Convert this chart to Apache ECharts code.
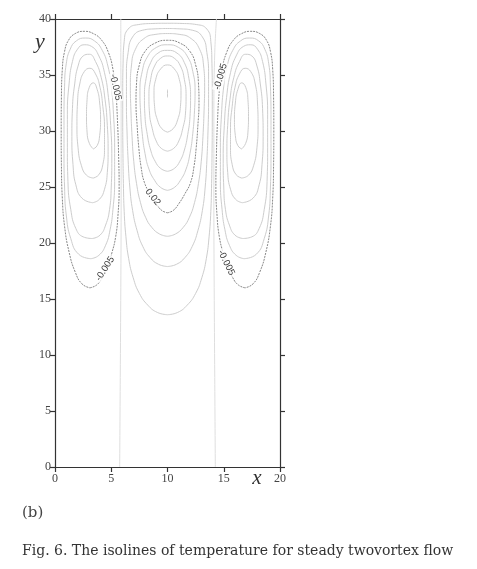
<!DOCTYPE html>
<html><head><meta charset="utf-8">
<script src="https://cdn.jsdelivr.net/npm/echarts@6/dist/echarts.min.js"></script>
<style>html,body{margin:0;padding:0;background:#fff}#c{width:477px;height:569px}</style>
</head><body><div id="c"></div>
<script>
// Axis ticks
var xTicks = [0, 5, 10, 15, 20];
var yTicks = [0, 5, 10, 15, 20, 25, 30, 35, 40];

// Labeled isolines (-0.005 of side vortices, 0.02 of central vortex)
var leftOuter = [[3.1,16.0],[3.7,16.25],[4.2,16.9],[4.65,17.9],[5.05,19.1],[5.4,20.6],[5.6,22.5],[5.7,25],[5.65,28],[5.55,31],[5.4,33.5],[5.15,35.5],[4.75,37.0],[4.15,38.1],[3.4,38.7],[2.6,38.9],[1.8,38.7],[1.2,38.1],[0.85,37.1],[0.65,35.5],[0.57,33],[0.55,30],[0.57,27],[0.65,24],[0.85,21.5],[1.25,19.2],[1.8,17.4],[2.4,16.35],[3.1,16.0]];
var rightOuter = [[16.9,16.0],[16.3,16.25],[15.8,16.9],[15.35,17.9],[14.95,19.1],[14.6,20.6],[14.4,22.5],[14.3,25],[14.35,28],[14.45,31],[14.6,33.5],[14.85,35.5],[15.25,37.0],[15.85,38.1],[16.6,38.7],[17.4,38.9],[18.2,38.7],[18.8,38.1],[19.15,37.1],[19.35,35.5],[19.43,33],[19.45,30],[19.43,27],[19.35,24],[19.15,21.5],[18.75,19.2],[18.2,17.4],[17.6,16.35],[16.9,16.0]];
var centerMain = [[10,22.7],[10.5,22.9],[11.0,23.5],[11.55,24.4],[12.05,25.4],[12.35,26.8],[12.55,28.5],[12.7,30.5],[12.8,32.5],[12.75,34.3],[12.5,35.9],[12.0,37.1],[11.1,37.85],[10,38.1],[8.9,37.85],[8.0,37.1],[7.5,35.9],[7.25,34.3],[7.2,32.5],[7.3,30.5],[7.45,28.5],[7.65,26.8],[7.95,25.4],[8.45,24.4],[9.0,23.5],[9.5,22.9],[10,22.7]];

// Unlabeled isolines, left vortex
var left2 = [[3.2,18.6],[3.9,18.9],[4.5,19.8],[4.9,21.2],[5.15,23],[5.3,25.5],[5.3,28.5],[5.2,31.5],[5.0,34],[4.7,35.8],[4.2,37.2],[3.5,38.05],[2.7,38.3],[1.9,38.05],[1.35,37.3],[1.0,36],[0.85,34],[0.8,31],[0.8,28],[0.85,25],[1.0,22.5],[1.4,20.4],[2.1,19.0],[3.2,18.6]];
var left3 = [[3.3,20.4],[4.0,20.7],[4.5,21.6],[4.85,23],[5.0,25],[5.05,27.5],[4.95,30.5],[4.75,33],[4.4,35.2],[3.9,36.7],[3.25,37.55],[2.6,37.7],[2.0,37.3],[1.55,36.2],[1.25,34.2],[1.1,31.5],[1.1,28.5],[1.15,25.5],[1.4,23],[1.85,21.3],[2.5,20.55],[3.3,20.4]];
var left4 = [[3.35,23.6],[3.95,23.9],[4.4,24.8],[4.65,26.3],[4.72,28.2],[4.65,30.5],[4.45,32.8],[4.1,34.8],[3.6,36.2],[3.05,36.85],[2.5,36.7],[2.05,35.8],[1.75,34.2],[1.55,32],[1.5,29.5],[1.6,27],[1.85,25.2],[2.4,24],[3.35,23.6]];
var left5 = [[3.4,25.8],[3.9,26.1],[4.25,27.0],[4.4,28.5],[4.4,30.3],[4.25,32.2],[4.0,33.9],[3.6,35.1],[3.1,35.6],[2.6,35.3],[2.2,34.2],[2.0,32.5],[1.95,30.5],[2.05,28.5],[2.35,26.9],[2.8,26.05],[3.4,25.8]];
var left6 = [[3.4,28.4],[3.75,28.7],[3.97,29.6],[4.05,31],[3.97,32.5],[3.75,33.7],[3.4,34.3],[3.05,33.9],[2.85,32.8],[2.8,31.3],[2.85,29.9],[3.05,28.9],[3.4,28.4]];

// Unlabeled isolines, right vortex
var right2 = [[16.8,18.6],[16.1,18.9],[15.5,19.8],[15.1,21.2],[14.85,23],[14.7,25.5],[14.7,28.5],[14.8,31.5],[15.0,34],[15.3,35.8],[15.8,37.2],[16.5,38.05],[17.3,38.3],[18.1,38.05],[18.65,37.3],[19.0,36],[19.15,34],[19.2,31],[19.2,28],[19.15,25],[19.0,22.5],[18.6,20.4],[17.9,19.0],[16.8,18.6]];
var right3 = [[16.7,20.4],[16.0,20.7],[15.5,21.6],[15.15,23],[15.0,25],[14.95,27.5],[15.05,30.5],[15.25,33],[15.6,35.2],[16.1,36.7],[16.75,37.55],[17.4,37.7],[18.0,37.3],[18.45,36.2],[18.75,34.2],[18.9,31.5],[18.9,28.5],[18.85,25.5],[18.6,23],[18.15,21.3],[17.5,20.55],[16.7,20.4]];
var right4 = [[16.65,23.6],[16.05,23.9],[15.6,24.8],[15.35,26.3],[15.28,28.2],[15.35,30.5],[15.55,32.8],[15.9,34.8],[16.4,36.2],[16.95,36.85],[17.5,36.7],[17.95,35.8],[18.25,34.2],[18.45,32],[18.5,29.5],[18.4,27],[18.15,25.2],[17.6,24],[16.65,23.6]];
var right5 = [[16.6,25.8],[16.1,26.1],[15.75,27.0],[15.6,28.5],[15.6,30.3],[15.75,32.2],[16.0,33.9],[16.4,35.1],[16.9,35.6],[17.4,35.3],[17.8,34.2],[18.0,32.5],[18.05,30.5],[17.95,28.5],[17.65,26.9],[17.2,26.05],[16.6,25.8]];
var right6 = [[16.6,28.4],[16.25,28.7],[16.03,29.6],[15.95,31],[16.03,32.5],[16.25,33.7],[16.6,34.3],[16.95,33.9],[17.15,32.8],[17.2,31.3],[17.15,29.9],[16.95,28.9],[16.6,28.4]];

// Unlabeled isolines, central vortex
var center0 = [[10,33.0],[10,33.7]];
var center1 = [[10,29.9],[10.5,30.2],[10.9,31.0],[11.15,32.2],[11.2,33.4],[11.05,34.6],[10.6,35.55],[10,35.9],[9.4,35.55],[8.95,34.6],[8.8,33.4],[8.85,32.2],[9.1,31.0],[9.5,30.2],[10,29.9]];
var center2 = [[10,28.2],[10.55,28.45],[11.0,29.1],[11.35,30.2],[11.6,31.6],[11.65,33.1],[11.5,34.6],[11.15,35.8],[10.6,36.5],[10,36.7],[9.4,36.5],[8.85,35.8],[8.5,34.6],[8.35,33.1],[8.4,31.6],[8.65,30.2],[9.0,29.1],[9.45,28.45],[10,28.2]];
var center3 = [[10,26.4],[10.6,26.65],[11.1,27.3],[11.5,28.3],[11.8,29.7],[12.0,31.3],[12.05,33],[11.9,34.7],[11.5,36.1],[10.85,36.95],[10,37.2],[9.15,36.95],[8.5,36.1],[8.1,34.7],[7.95,33],[8.0,31.3],[8.2,29.7],[8.5,28.3],[8.9,27.3],[9.4,26.65],[10,26.4]];
var center4 = [[10,24.7],[10.6,24.95],[11.15,25.6],[11.65,26.6],[12.0,28],[12.25,29.8],[12.4,31.8],[12.45,33.6],[12.25,35.3],[11.8,36.6],[11.0,37.45],[10,37.7],[9.0,37.45],[8.2,36.6],[7.75,35.3],[7.55,33.6],[7.6,31.8],[7.75,29.8],[8.0,28],[8.35,26.6],[8.85,25.6],[9.4,24.95],[10,24.7]];
var center6 = [[10,20.6],[10.7,20.8],[11.4,21.4],[11.95,22.3],[12.4,23.6],[12.75,25.3],[13.0,27.3],[13.15,29.5],[13.25,31.8],[13.3,34],[13.2,35.9],[12.85,37.3],[12.1,38.25],[11.1,38.62],[10,38.7],[8.9,38.62],[7.9,38.25],[7.15,37.3],[6.8,35.9],[6.7,34],[6.75,31.8],[6.85,29.5],[7.0,27.3],[7.25,25.3],[7.6,23.6],[8.05,22.3],[8.6,21.4],[9.3,20.8],[10,20.6]];
var center7 = [[10,17.9],[10.8,18.1],[11.55,18.7],[12.2,19.7],[12.7,21.1],[13.1,22.9],[13.35,25],[13.5,27.4],[13.6,30],[13.65,32.5],[13.65,35],[13.5,37],[13.1,38.4],[12.2,39.0],[11.1,39.12],[10,39.15],[8.9,39.12],[7.8,39.0],[6.9,38.4],[6.5,37],[6.35,35],[6.35,32.5],[6.4,30],[6.5,27.4],[6.65,25],[6.9,22.9],[7.3,21.1],[7.8,19.7],[8.45,18.7],[9.2,18.1],[10,17.9]];
var center8 = [[10,13.6],[10.9,13.8],[11.75,14.45],[12.5,15.5],[13.05,16.9],[13.45,18.6],[13.7,20.6],[13.85,22.8],[13.92,25.3],[13.96,28],[13.98,30.8],[13.98,33.5],[13.95,36],[13.85,38],[13.5,39.1],[12.6,39.5],[11.3,39.6],[10,39.62],[8.7,39.6],[7.4,39.5],[6.5,39.1],[6.15,38],[6.05,36],[6.02,33.5],[6.02,30.8],[6.04,28],[6.08,25.3],[6.15,22.8],[6.3,20.6],[6.55,18.6],[6.95,16.9],[7.5,15.5],[8.25,14.45],[9.1,13.8],[10,13.6]];

// Zero isolines separating the vortices
var zeroLeft = [[5.75,0],[5.8,8],[5.85,16],[5.88,24],[5.88,32],[5.85,37],[5.85,40]];
var zeroRight = [[14.25,0],[14.2,8],[14.15,16],[14.12,24],[14.12,32],[14.2,37],[14.35,40]];

// Contour labels: [x, y, text] and their angles
var contourLabels = [[5.38,33.9,'-0.005'],[4.45,17.7,'-0.005'],[8.7,24.1,'0.02'],[14.72,34.85,'-0.005'],[15.22,18.24,'-0.005']];
var labelAngles = [-78, 57, -52, 74, -64];

var darkLines = [leftOuter, rightOuter, centerMain];
var lightLines = [left2,left3,left4,left5,left6,right2,right3,right4,right5,right6,center0,center1,center2,center3,center4,center6,center7,center8];
var zeroLines = [zeroLeft, zeroRight];

var chart = echarts.init(document.getElementById('c'), null, {renderer:'canvas'});
var series = [];
zeroLines.forEach(function(d){
  series.push({type:'line', data:d, smooth:0.4, symbol:'none', silent:true, z:1,
    lineStyle:{color:'#dedede', width:1}});
});
lightLines.forEach(function(d){
  series.push({type:'line', data:d, smooth:0.5, symbol:'none', silent:true, z:2,
    lineStyle:{color:'#cdcdcd', width:1}});
});
darkLines.forEach(function(d){
  series.push({type:'line', data:d, smooth:0.5, symbol:'none', silent:true, z:3,
    lineStyle:{color:'#888', width:1, type:[2,1]}});
});
series.push({type:'scatter', symbolSize:0, silent:true, z:5,
  data: contourLabels.map(function(l, i){
    return {value:[l[0], l[1]], label:{show:true, position:'inside', rotate:labelAngles[i],
      formatter:l[2], fontFamily:'Liberation Sans', fontSize:9.5, color:'#000',
      backgroundColor:'#fff', padding:[0,1]}};
  })
});

var axisCommon = {
  type:'value', min:0,
  axisLine:{show:true, onZero:false, lineStyle:{color:'#333', width:1.2}},
  axisTick:{show:true, length:5, lineStyle:{color:'#333', width:1.2}},
  splitLine:{show:false}
};
function ax(extra){ return Object.assign({}, axisCommon, extra); }

chart.setOption({
  animation:false,
  backgroundColor:'#fff',
  grid:{left:55, top:19, width:225, height:448, containLabel:false},
  xAxis:[
    ax({position:'bottom', max:xTicks[xTicks.length-1], interval:xTicks[1]-xTicks[0],
      axisLabel:{fontFamily:'Liberation Serif', fontSize:12, color:'#444', margin:6}}),
    ax({position:'top', max:xTicks[xTicks.length-1], interval:xTicks[1]-xTicks[0], axisLabel:{show:false}})
  ],
  yAxis:[
    ax({position:'left', max:yTicks[yTicks.length-1], interval:yTicks[1]-yTicks[0],
      axisLabel:{fontFamily:'Liberation Serif', fontSize:12, color:'#444', margin:4}}),
    ax({position:'right', max:yTicks[yTicks.length-1], interval:yTicks[1]-yTicks[0], axisLabel:{show:false}})
  ],
  series:series,
  graphic:[
    {type:'text', x:40, y:42, style:{text:'y', font:'italic 22px "Liberation Serif"', fill:'#333', align:'center', verticalAlign:'middle'}},
    {type:'text', x:257, y:478, style:{text:'x', font:'italic 21px "Liberation Serif"', fill:'#333', align:'center', verticalAlign:'middle'}},
    {type:'text', x:22, y:513, style:{text:'(b)', font:'15px "DejaVu Serif"', fill:'#444', align:'left', verticalAlign:'middle'}},
    {type:'text', x:22, y:551, style:{text:'Fig. 6. The isolines of temperature for steady twovortex flow', font:'14px "DejaVu Serif"', fill:'#333', align:'left', verticalAlign:'middle'}}
  ]
});
</script></body></html>
